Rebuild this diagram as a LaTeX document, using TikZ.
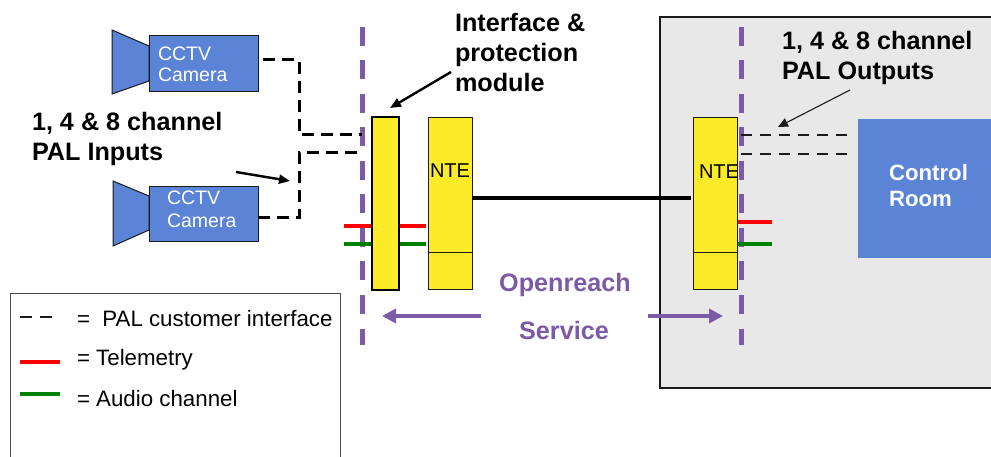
\documentclass[tikz,border=0pt]{standalone}
\usepackage{fontspec}
\setmainfont{Liberation Sans}
\usetikzlibrary{arrows.meta}
\definecolor{camblue}{HTML}{5B84D6}
\definecolor{ntey}{HTML}{FBEB28}
\definecolor{purp}{HTML}{7B5AA6}
\definecolor{panel}{HTML}{E8E8E8}
\definecolor{aud}{HTML}{008000}
\definecolor{lineblk}{HTML}{1A1A1A}
\tikzset{
  every node/.style={inner sep=0pt,outer sep=0pt},
  camBody/.style={draw=lineblk,line width=1pt,fill=camblue,anchor=north west,minimum width=109pt,minimum height=56pt},
  camCone/.style={draw=lineblk,line width=1pt,fill=camblue},
  camText/.style={anchor=base west,text=white,font=\fontsize{19.5}{22}\selectfont,align=left},
  nteBox/.style={draw=lineblk,line width=1pt,fill=ntey,anchor=north west},
  nteText/.style={anchor=base west,text=black,font=\fontsize{20}{22}\selectfont},
  boldLbl/.style={anchor=north west,align=left,text=black,font=\bfseries\fontsize{25.2}{30}\selectfont},
  purpLbl/.style={text=purp,font=\bfseries\fontsize{25.2}{28}\selectfont},
  legText/.style={anchor=base west,text=black,font=\fontsize{22.3}{25}\selectfont},
  palDash/.style={draw=black,line width=3pt,dash pattern=on 12pt off 7pt},
  palThin/.style={draw=lineblk,line width=2.3pt,dash pattern=on 11pt off 8pt},
  boundary/.style={draw=purp,line width=5pt,dash pattern=on 19pt off 14.5pt},
  telem/.style={draw=red,line width=3.6pt},
  audio/.style={draw=aud,line width=3.6pt},
  purpArrow/.style={draw=purp,line width=4pt,-{Triangle[length=14pt,width=14pt]}},
  callout/.style={draw=black,line width=2.4pt,-{Triangle[length=11pt,width=9pt]}},
  calloutThin/.style={draw=lineblk,line width=1.1pt,-{Triangle[length=10pt,width=9pt]}}
}
\begin{document}
\begin{tikzpicture}[x=1pt,y=-1pt]
\useasboundingbox (0,0) rectangle (991,457);
\fill[white] (0,0) rectangle (991,457);
\begin{scope}
\clip (0,0) rectangle (991,457);
% customer premises panel
\node[draw=lineblk,line width=2pt,fill=panel,anchor=north west,minimum width=345pt,minimum height=371pt] (panel) at (660,17) {};
% legend
\node[draw=lineblk!80,line width=1pt,fill=white,anchor=north west,minimum width=330pt,minimum height=190pt] (legend) at (10.5,293.5) {};
\end{scope}
% boundaries
\coordinate (bLtop) at (362,27); \coordinate (bLbot) at (362,345);
\coordinate (bRtop) at (741,27); \coordinate (bRbot) at (741,345);
\draw[boundary] (bLtop) -- (bLbot);
\draw[boundary] (bRtop) -- (bRbot);
% cameras
\node[camBody] (cam1) at (149,36) {};
\draw[camCone] (149,46) -- (112,30) -- (112,94) -- (149,81) -- cycle;
\node[camText] (cam1a) at (158,61) {CCTV};
\node[camText] (cam1b) at (158,82) {Camera};
\node[camBody,minimum height=55pt] (cam2) at (149,187) {};
\draw[camCone] (149,196) -- (113,181) -- (113,246) -- (149,230) -- cycle;
\node[camText] (cam2a) at (167,205) {CCTV};
\node[camText] (cam2b) at (167,228) {Camera};
% PAL lines
\coordinate (c1out) at (263,60); \coordinate (c1bend) at (299,60);
\coordinate (j1) at (299,135); \coordinate (pLa) at (362,135);
\coordinate (c2out) at (258,218); \coordinate (c2bend) at (299,218);
\coordinate (j2) at (299,153); \coordinate (pLb) at (362,153);
\draw[palDash] (c1out) -- (c1bend) -- (j1) -- (pLa);
\draw[palDash] (c2out) -- (c2bend) -- (j2) -- (pLb);
% telemetry / audio left
\coordinate (tL) at (344,226); \coordinate (aL) at (344,244);
\coordinate (tR) at (426,226); \coordinate (aR) at (426,244);
\draw[telem] (tL) -- (tR);
\draw[audio] (aL) -- (aR);
% interface module
\node[draw=black,line width=2.4pt,fill=ntey,anchor=north west,minimum width=27pt,minimum height=173pt] (iface) at (372,117) {};
% NTE 1
\node[nteBox,minimum width=44pt,minimum height=171pt] (nte1) at (428,118) {};
\coordinate (n1a) at (428,253); \coordinate (n1b) at (472,253);
\draw[draw=lineblk,line width=1pt] (n1a) -- (n1b);
\node[nteText] (nte1t) at (430,178) {NTE};
% NTE 2
\node[nteBox,minimum width=44.5pt,minimum height=171pt] (nte2) at (693,118) {};
\coordinate (n2a) at (693,253); \coordinate (n2b) at (738,253);
\draw[draw=lineblk,line width=1pt] (n2a) -- (n2b);
\node[nteText] (nte2t) at (699,179) {NTE};
% link
\coordinate (n2in) at (691,198);
\draw[draw=black,line width=3.6pt] (nte1.east |- n2in) -- (n2in);
% telemetry / audio right
\coordinate (tR2) at (772,222); \coordinate (aR2) at (772,244);
\draw[telem] (nte2.east |- tR2) -- (tR2);
\draw[audio] (nte2.east |- aR2) -- (aR2);
% control room
\node[fill=camblue,anchor=north west,minimum width=134pt,minimum height=139pt] (ctrl) at (858,119) {};
\node[anchor=north west,align=left,text=white,font=\bfseries\fontsize{22.2}{26.5}\selectfont] (ctrlt) at (889,164) {Control\\Room};
% PAL outputs
\coordinate (pRa) at (851,135); \coordinate (pRb) at (851,154);
\draw[palThin] (nte2.east |- pRa) ++(3,0) -- (pRa);
\draw[palThin] (nte2.east |- pRb) ++(3,0) -- (pRb);
% labels
\node[boldLbl] (lblIface) at (455,13.5) {Interface \&\\protection\\module};
\node[boldLbl] (lblIn) at (32,112) {1, 4 \& 8 channel\\PAL Inputs};
\node[boldLbl] (lblOut) at (782,31) {1, 4 \& 8 channel\\PAL Outputs};
\node[purpLbl] (open) at (565,285) {Openreach};
\node[purpLbl] (serv) at (564,330) {Service};
% callouts
\coordinate (a1s) at (451,72); \coordinate (a1e) at (390,108);
\coordinate (a2s) at (236,172); \coordinate (a2e) at (290,181);
\coordinate (a3s) at (850,90); \coordinate (a3e) at (778,127);
\draw[callout] (a1s) -- (a1e);
\draw[callout] (a2s) -- (a2e);
\draw[calloutThin] (a3s) -- (a3e);
% service arrows
\coordinate (s1s) at (481,316); \coordinate (s1e) at (382,316);
\coordinate (s2s) at (648,316); \coordinate (s2e) at (723,316);
\draw[purpArrow] (s1s) -- (s1e);
\draw[purpArrow] (s2s) -- (s2e);
% legend contents
\coordinate (ld1) at (20,317); \coordinate (ld2) at (52,317);
\coordinate (lr1) at (20,362); \coordinate (lr2) at (60,362);
\coordinate (lg1) at (20,394); \coordinate (lg2) at (60,394);
\draw[draw=lineblk,line width=2pt,dash pattern=on 12pt off 8pt] (ld1) -- (ld2);
\draw[telem] (lr1) -- (lr2);
\draw[audio] (lg1) -- (lg2);
\node[legText] (l1) at (77,326) {=\ \ PAL customer interface};
\node[legText] (l2) at (77,365) {= Telemetry};
\node[legText] (l3) at (77,406) {= Audio channel};
\end{tikzpicture}
\end{document}
